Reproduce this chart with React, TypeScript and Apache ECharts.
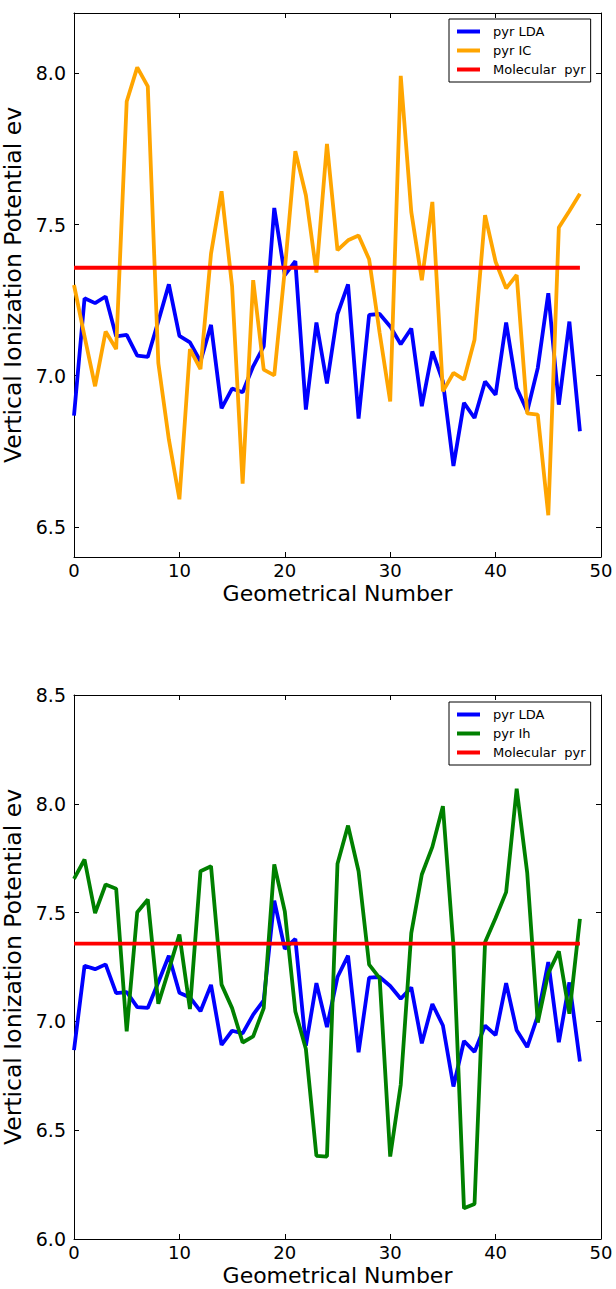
import React, { useEffect, useRef } from "react";
import * as echarts from "echarts";

const xTicks = [0, 10, 20, 30, 40, 50];
const topYTicks = [6.5, 7.0, 7.5, 8.0];
const bottomYTicks = [6.0, 6.5, 7.0, 7.5, 8.0, 8.5];

const ldaValues = [
  6.868, 7.256, 7.24, 7.262, 7.13, 7.135, 7.066, 7.062, 7.18, 7.302,
  7.132, 7.11, 7.047, 7.168, 6.892, 6.957, 6.945, 7.031, 7.097, 7.555,
  7.333, 7.379, 6.888, 7.176, 6.974, 7.204, 7.302, 6.858, 7.201, 7.204,
  7.163, 7.104, 7.156, 6.899, 7.08, 6.981, 6.701, 6.91, 6.86, 6.981,
  6.937, 7.176, 6.959, 6.882, 7.025, 7.273, 6.904, 7.179, 6.816,
];

const icValues = [
  7.3, 7.13, 6.965, 7.146, 7.088, 7.907, 8.02, 7.957, 7.042, 6.789,
  6.591, 7.088, 7.022, 7.404, 7.61, 7.295, 6.643, 7.316, 7.02, 7.001,
  7.35, 7.743, 7.597, 7.341, 7.767, 7.415, 7.448, 7.464, 7.385, 7.141,
  6.915, 7.992, 7.542, 7.316, 7.575, 6.948, 7.009, 6.987, 7.119, 7.531,
  7.377, 7.289, 7.333, 6.875, 6.871, 6.538, 7.49, 7.545, 7.602,
];

const ihValues = [
  7.655, 7.744, 7.498, 7.629, 7.61, 6.954, 7.502, 7.56, 7.081, 7.238,
  7.399, 7.057, 7.69, 7.713, 7.169, 7.061, 6.903, 6.931, 7.061, 7.721,
  7.506, 7.046, 6.873, 6.382, 6.379, 7.725, 7.9, 7.69, 7.261, 7.199,
  6.379, 6.709, 7.406, 7.675, 7.802, 7.989, 7.345, 6.141, 6.161, 7.364,
  7.475, 7.594, 8.069, 7.683, 6.995, 7.222, 7.322, 7.035, 7.471,
];

const molecularPyr = 7.357;

const FONT = "DejaVu Sans";

export default function App() {
  const ref = useRef<HTMLDivElement>(null);

  useEffect(() => {
    document.body.style.margin = "0";
    if (!ref.current) return;
    const chart = echarts.init(ref.current, null, { renderer: "svg" });

    const pts = (vals: number[]) => vals.map((v, i) => [i, v]);
    const molecular = ldaValues.map((_, i) => [i, molecularPyr]);

    const line = (name: string, data: number[][], color: string, idx: number) => ({
      type: "line",
      name,
      data,
      xAxisIndex: idx * 2,
      yAxisIndex: idx * 2,
      showSymbol: false,
      symbol: "none",
      color,
      lineStyle: { color, width: 3.8 },
      emphasis: { disabled: true },
    });

    const axisLine = { show: true, onZero: false, lineStyle: { color: "#000", width: 1 } };
    const tick = { show: true, inside: true, length: 5, lineStyle: { color: "#000", width: 1 } };

    const xAxes = (g: number) => [
      {
        gridIndex: g,
        type: "value",
        min: 0,
        max: 50,
        interval: 10,
        position: "bottom",
        axisLine,
        axisTick: { ...tick, customValues: xTicks },
        splitLine: { show: false },
        axisLabel: {
          customValues: xTicks,
          fontSize: 18,
          fontFamily: FONT,
          color: "#000",
          margin: 4,
        },
        name: "Geometrical Number",
        nameLocation: "middle",
        nameGap: 25,
        nameTextStyle: { fontSize: 22, fontFamily: FONT, color: "#000" },
      },
      {
        gridIndex: g,
        type: "value",
        min: 0,
        max: 50,
        interval: 10,
        position: "top",
        axisLine,
        axisTick: { ...tick, customValues: xTicks },
        splitLine: { show: false },
        axisLabel: { show: false },
      },
    ];

    const yAxes = (g: number, min: number, max: number, ticks: number[]) => [
      {
        gridIndex: g,
        type: "value",
        min,
        max,
        position: "left",
        axisLine,
        axisTick: { ...tick, customValues: ticks },
        splitLine: { show: false },
        axisLabel: {
          customValues: ticks,
          formatter: (v: number) => v.toFixed(1),
          fontSize: 19,
          fontFamily: FONT,
          color: "#000",
          margin: 8,
          showMinLabel: true,
          showMaxLabel: true,
        },
        name: "Vertical Ionization Potential ev",
        nameLocation: "middle",
        nameGap: 38,
        nameRotate: 90,
        nameTextStyle: { fontSize: 23.5, fontFamily: FONT, color: "#000" },
      },
      {
        gridIndex: g,
        type: "value",
        min,
        max,
        position: "right",
        axisLine,
        axisTick: { ...tick, customValues: ticks },
        splitLine: { show: false },
        axisLabel: { show: false },
      },
    ];

    const legend = (top: number, names: string[]) => ({
      data: names,
      orient: "vertical",
      left: 449,
      top,
      padding: [5, 5, 5, 8],
      itemGap: 4,
      itemWidth: 23,
      itemHeight: 4,
      icon: "rect",
      selectedMode: false,
      borderColor: "#000",
      borderWidth: 1,
      borderRadius: 0,
      backgroundColor: "#fff",
      textStyle: {
        fontSize: 13,
        lineHeight: 15,
        fontFamily: FONT,
        color: "#000",
        padding: [0, 0, 0, 8],
      },
    });

    chart.setOption({
      animation: false,
      backgroundColor: "#fff",
      grid: [
        { left: 74, top: 13, width: 527, height: 544, containLabel: false, outerBoundsMode: "none" },
        { left: 74, top: 695, width: 527, height: 544, containLabel: false, outerBoundsMode: "none" },
      ],
      xAxis: [...xAxes(0), ...xAxes(1)],
      yAxis: [
        ...yAxes(0, 6.4, 8.2, topYTicks),
        ...yAxes(1, 6.0, 8.5, bottomYTicks),
      ],
      legend: [
        legend(19, ["pyr LDA", "pyr IC", "Molecular  pyr"]),
        legend(702, ["pyr LDA", "pyr Ih", "Molecular  pyr"]),
      ],
      series: [
        line("pyr LDA", pts(ldaValues), "#0000ff", 0),
        line("pyr IC", pts(icValues), "#ffa500", 0),
        line("Molecular  pyr", molecular, "#ff0000", 0),
        line("pyr LDA", pts(ldaValues), "#0000ff", 1),
        line("pyr Ih", pts(ihValues), "#008000", 1),
        line("Molecular  pyr", molecular, "#ff0000", 1),
      ],
    });

    return () => chart.dispose();
  }, []);

  return <div ref={ref} style={{ width: 616, height: 1289 }} />;
}
